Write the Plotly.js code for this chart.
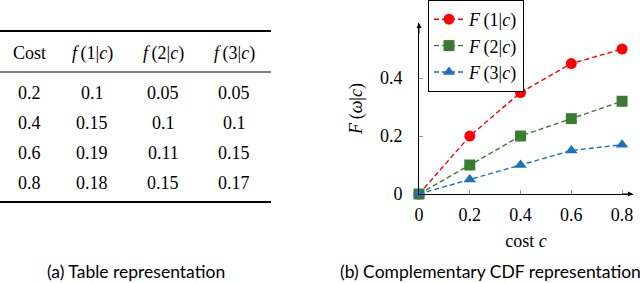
<!DOCTYPE html>
<html>
<head>
<meta charset="utf-8">
<script src="https://cdn.plot.ly/plotly-3.0.1.min.js"></script>
<style>html,body{margin:0;padding:0;background:#fff;}#chart{width:640px;height:283px;}</style>
</head>
<body>
<div id="chart"></div>
<script>
// ---- data ----
const costs = [0.2, 0.4, 0.6, 0.8];
const f1 = [0.1, 0.15, 0.19, 0.18];
const f2 = [0.05, 0.1, 0.11, 0.15];
const f3 = [0.05, 0.1, 0.15, 0.17];
const tableHeader = ['Cost', '<i>f</i>\u2009(1|<i>c</i>)', '<i>f</i>\u2009(2|<i>c</i>)', '<i>f</i>\u2009(3|<i>c</i>)'];

const costX = [0, 0.2, 0.4, 0.6, 0.8];
const F1 = [0, 0.2, 0.35, 0.45, 0.5];
const F2 = [0, 0.1, 0.2, 0.26, 0.32];
const F3 = [0, 0.05, 0.1, 0.15, 0.17];
const seriesNames = ['<i>F</i>\u2009(1|<i>c</i>)', '<i>F</i>\u2009(2|<i>c</i>)', '<i>F</i>\u2009(3|<i>c</i>)'];
const xTicks = [0, 0.2, 0.4, 0.6, 0.8];
const yTicks = [0, 0.2, 0.4];
const captions = ['(a) Table representation', '(b) Complementary CDF representation'];

// ---- helpers: pixel -> paper ----
const W = 640, H = 283;
const px = v => v / W;
const py = v => 1 - v / H;

const serif = 'Liberation Serif, Times New Roman, serif';
const colors = ['#ff0000', '#3a7d30', '#1b72c0'];
const symbols = ['circle', 'square', 'triangle-up'];
const Fs = [F1, F2, F3];

const traces = Fs.map((ys, i) => ({
  type: 'scatter', mode: 'lines+markers',
  x: costX, y: ys, name: seriesNames[i], legendgroup: 'g' + i,
  line: {color: colors[i], width: 1.4, dash: '5px,3px'},
  marker: {color: colors[i], symbol: symbols[i], size: 11},
  cliponaxis: false
}));

// table annotations
const colX = [29, 92, 163, 234];
const rowY = [93, 123, 153, 183];
const annotations = [];
tableHeader.forEach((t, j) => annotations.push({
  xref: 'paper', yref: 'paper', x: px(colX[j]), y: py(53), text: t, showarrow: false,
  xanchor: 'center', yanchor: 'middle', font: {family: serif, size: 18, color: '#000'}
}));
const cols = [costs, f1, f2, f3];
cols.forEach((col, j) => col.forEach((v, r) => annotations.push({
  xref: 'paper', yref: 'paper', x: px(colX[j]), y: py(rowY[r]), text: String(v), showarrow: false,
  xanchor: 'center', yanchor: 'middle', font: {family: serif, size: 18, color: '#000'}
})));
// captions
annotations.push({xref: 'paper', yref: 'paper', x: px(136), y: py(271), text: captions[0], showarrow: false,
  xanchor: 'center', yanchor: 'middle', font: {family: 'Lato, sans-serif', size: 17.5, color: '#000'}});
annotations.push({xref: 'paper', yref: 'paper', x: px(490), y: py(271), text: captions[1], showarrow: false,
  xanchor: 'center', yanchor: 'middle', font: {family: 'Lato, sans-serif', size: 17.5, color: '#000'}});
// axis arrowheads
annotations.push({xref: 'x', yref: 'y', x: 0.843, y: 0, ax: -12, ay: 0, text: '', showarrow: true,
  arrowhead: 2, arrowsize: 1, arrowwidth: 1, arrowcolor: '#000'});
annotations.push({xref: 'x', yref: 'y', x: 0, y: 0.59, ax: 0, ay: 12, text: '', showarrow: true,
  arrowhead: 2, arrowsize: 1, arrowwidth: 1, arrowcolor: '#000'});

const shapes = [
  {type: 'line', xref: 'paper', yref: 'paper', x0: 0, x1: px(271), y0: py(31), y1: py(31), line: {color: '#000', width: 1.8}},
  {type: 'line', xref: 'paper', yref: 'paper', x0: 0, x1: px(271), y0: py(72), y1: py(72), line: {color: '#000', width: 1}},
  {type: 'line', xref: 'paper', yref: 'paper', x0: 0, x1: px(271), y0: py(202), y1: py(202), line: {color: '#000', width: 1.8}}
];

const layout = {
  width: W, height: H,
  margin: {l: 0, r: 0, t: 0, b: 0},
  paper_bgcolor: '#fff', plot_bgcolor: '#fff',
  font: {family: serif, size: 17, color: '#000'},
  xaxis: {
    domain: [px(419), px(633)], range: [0, 0.843], fixedrange: true,
    showline: true, linecolor: '#000', linewidth: 1, showgrid: false, zeroline: false,
    tickvals: xTicks, ticktext: xTicks.map(String), ticks: 'inside', ticklen: 4, tickcolor: '#999',
    tickfont: {family: serif, size: 18}, ticklabelstandoff: 4,
    title: {text: 'cost <i>c</i>', font: {family: serif, size: 18}, standoff: 10}
  },
  yaxis: {
    domain: [py(194), py(23)], range: [0, 0.59], fixedrange: true,
    showline: true, linecolor: '#000', linewidth: 1, showgrid: false, zeroline: false,
    tickvals: yTicks, ticktext: yTicks.map(String), ticks: 'inside', ticklen: 4, tickcolor: '#999',
    tickfont: {family: serif, size: 18}, ticklabelstandoff: 12,
    title: {text: '<i>F</i>\u2009(<i>ω</i>|<i>c</i>)', font: {family: serif, size: 18}, standoff: 12}
  },
  showlegend: true,
  legend: {
    x: px(428), y: 1, xanchor: 'left', yanchor: 'top',
    bordercolor: '#000', borderwidth: 1, bgcolor: '#fff',
    font: {family: serif, size: 18}, tracegroupgap: 3, traceorder: 'normal',
    itemwidth: 30
  },
  annotations: annotations,
  shapes: shapes
};

Plotly.newPlot('chart', traces, layout, {displayModeBar: false, staticPlot: true});
</script>
</body>
</html>
